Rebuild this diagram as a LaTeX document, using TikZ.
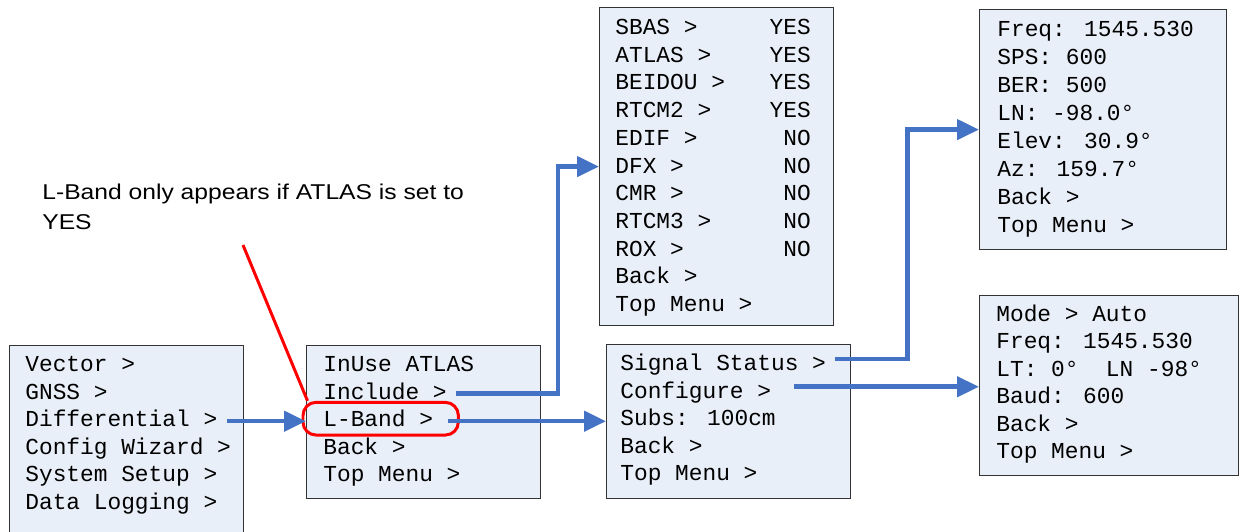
\documentclass[tikz,border=0pt]{standalone}
\usepackage{fontspec}
\setmainfont{Liberation Sans}
\newfontfamily\menufamily{Liberation Mono}
\newfontfamily\notefamily[FakeStretch=1.15]{Liberation Sans}
\usepackage{tikz}
\usetikzlibrary{positioning, arrows.meta, calc, fit}
\usepackage{xcolor}
\definecolor{menufill}{HTML}{E9EFF8}
\definecolor{flowblue}{HTML}{4472C4}
\definecolor{ringred}{HTML}{FF0000}

\begin{document}
\begin{tikzpicture}[x=0.02cm, y=-0.02cm,
    menu/.style={draw=black!80, line width=0.7pt, fill=menufill, inner sep=0pt, anchor=north west},
    item/.style={font=\menufamily\fontsize{13}{15.7}\selectfont, anchor=base west,
        inner xsep=0.18cm, inner ysep=0pt, text height=0.22cm, text depth=0pt},
    flow/.style={draw=flowblue, line width=2.6pt, -{Triangle[length=0.44cm, width=0.4cm]}},
    ring/.style={draw=ringred, line width=1.7pt, rounded corners=0.26cm},
    pointer/.style={draw=ringred, line width=1.7pt},
    note/.style={font=\notefamily\fontsize{12.2}{17}\selectfont, align=left,
        inner sep=0pt, anchor=north west, text=black}]
    \useasboundingbox (0,0) rectangle (1241,531);

    % Menu screens
    \node[menu, minimum width=4.68cm, minimum height=3.8cm]  (mainmenu)  at (9,345) {};
    \node[menu, minimum width=4.68cm, minimum height=3.06cm] (diffmenu)  at (306,345) {};
    \node[menu, minimum width=4.68cm, minimum height=6.36cm] (inclmenu)  at (599,7) {};
    \node[menu, minimum width=4.94cm, minimum height=4.8cm]  (statmenu)  at (979,9) {};
    \node[menu, minimum width=4.88cm, minimum height=3.08cm] (lbandmenu) at (606,344) {};
    \node[menu, minimum width=5.18cm, minimum height=3.6cm]  (cfgmenu)   at (979,295) {};

    % Menu entries
    \foreach \txt [count=\i] in {Vector >, GNSS >, Differential >, Config Wizard >, System Setup >, Data Logging >}
        \node[item] (main-\i) at ($(mainmenu.north west)+(7,{26.5+27.6*(\i-1)})$) {\txt};
    \foreach \txt [count=\i] in {InUse ATLAS, Include >, L-Band >, Back >, Top Menu >}
        \node[item] (diff-\i) at ($(diffmenu.north west)+(8,{26.5+27.6*(\i-1)})$) {\txt};
    \foreach \txt [count=\i] in {SBAS >, ATLAS >, BEIDOU >, RTCM2 >, EDIF >, DFX >, CMR >, RTCM3 >, ROX >, Back >, Top Menu >}
        \node[item] (incl-\i) at ($(inclmenu.north west)+(7,{27.5+27.7*(\i-1)})$) {\txt};
    \foreach \val [count=\i] in {YES, YES, YES, YES, NO, NO, NO, NO, NO}
        \node[item, anchor=base east] (incl-\i-val) at ($(incl-\i.base west -| inclmenu.east)+(-14,0)$) {\val};
    \foreach \txt [count=\i] in {Freq: 1545.530, SPS: 600, BER: 500, LN: -98.0°, Elev: 30.9°, Az: 159.7°, Back >, Top Menu >}
        \node[item] (stat-\i) at ($(statmenu.north west)+(9,{27+28*(\i-1)})$) {\txt};
    \foreach \txt [count=\i] in {Signal Status >, Configure >, Subs: 100cm, Back >, Top Menu >}
        \node[item] (lband-\i) at ($(lbandmenu.north west)+(5,{26.5+27.6*(\i-1)})$) {\txt};
    \foreach \txt [count=\i] in {Mode > Auto, Freq: 1545.530, LT: 0°~~LN -98°, Baud: 600, Back >, Top Menu >}
        \node[item] (cfg-\i) at ($(cfgmenu.north west)+(8,{26.5+27.4*(\i-1)})$) {\txt};

    % Callout
    \node[note] (note) at (42,184) {L-Band only appears if ATLAS is set to\\YES};
    \node[ring, fit=(diff-3), inner xsep=0.27cm, inner ysep=0.21cm, xshift=0.05cm, yshift=0.05cm] (ring) {};
    \coordinate (note-tail) at (243,245);
    \draw[pointer] (note-tail) -- ([xshift=0.12cm]ring.north west);

    % Navigation
    \draw[flow] (main-3.east) -- (main-3.east -| diffmenu.west);
    \draw[flow] (diff-2.east) -- ++(102,0) |- (inclmenu.west);
    \draw[flow] ([xshift=0.12cm]diff-3.east) -- (diff-3.east -| lbandmenu.west);
    \draw[flow] (lband-1.north east) -- ++(72,0) |- (statmenu.west);
    \draw[flow] ([xshift=0.28cm]lband-2.north east) -- (lband-2.north east -| cfgmenu.west);
\end{tikzpicture}
\end{document}
